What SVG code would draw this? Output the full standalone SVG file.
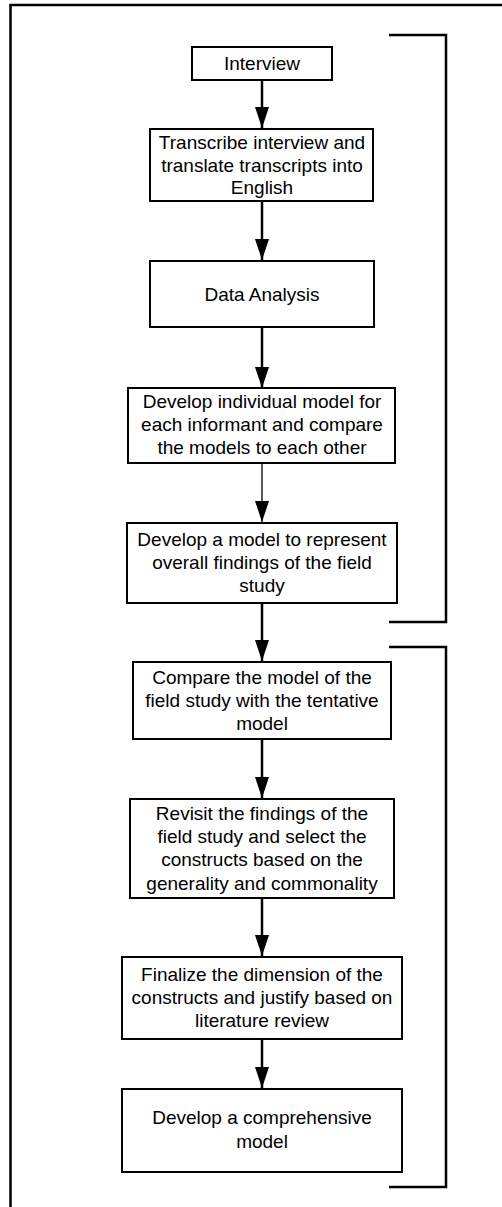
<svg xmlns="http://www.w3.org/2000/svg" width="502" height="1207" viewBox="0 0 502 1207">
  <style>
    .box { fill: #ffffff; stroke: #000000; stroke-width: 2; }
    .label { font-family: "Liberation Sans", Arial, sans-serif; font-size: 19px; fill: #000000; text-anchor: middle; }
    .edge { stroke: #000000; stroke-width: 2.5; fill: none; }
    .edge.thin { stroke-width: 1.3; }
    .frame { stroke: #000000; stroke-width: 2.5; fill: none; }
  </style>
  <defs>
    <marker id="arrow" markerUnits="userSpaceOnUse" markerWidth="14" markerHeight="21" refX="14" refY="7" orient="auto">
      <path d="M0,0 L14,7 L0,14 Z" fill="#000000"/>
    </marker>
    <marker id="arrowHead" markerUnits="userSpaceOnUse" viewBox="0 0 21 14" markerWidth="21" markerHeight="14" refX="21" refY="7" orient="auto">
      <path d="M0,0 L21,7 L0,14 Z" fill="#000000"/>
    </marker>
  </defs>

  <rect width="502" height="1207" fill="#ffffff"/>

  <!-- outer frame (runs past the right and bottom edges) -->
  <path class="frame" d="M10.5,1215 L10.5,5 L520,5"/>

  <!-- phase brackets -->
  <g id="bracket-field-study">
    <path class="frame" d="M389,35 L446,35 L446,622 L389,622"/>
  </g>
  <g id="bracket-model-building">
    <path class="frame" d="M389,647 L446,647 L446,1187 L389,1187"/>
  </g>

  <!-- connectors -->
  <g id="connectors">
    <line class="edge" x1="262" y1="80" x2="262" y2="128" marker-end="url(#arrowHead)"/>
    <line class="edge" x1="262" y1="201" x2="262" y2="260" marker-end="url(#arrowHead)"/>
    <line class="edge" x1="262" y1="327" x2="262" y2="388" marker-end="url(#arrowHead)"/>
    <line class="edge thin" x1="262" y1="463" x2="262" y2="522" marker-end="url(#arrowHead)"/>
    <line class="edge" x1="262" y1="603" x2="262" y2="661" marker-end="url(#arrowHead)"/>
    <line class="edge" x1="262" y1="739" x2="262" y2="798" marker-end="url(#arrowHead)"/>
    <line class="edge" x1="262" y1="898" x2="262" y2="956" marker-end="url(#arrowHead)"/>
    <line class="edge" x1="262" y1="1039" x2="262" y2="1088" marker-end="url(#arrowHead)"/>
  </g>

  <g id="node-interview">
    <rect class="box" x="192" y="47" width="140" height="33"/>
    <text class="label" x="262" y="70">Interview</text>
  </g>

  <g id="node-transcribe">
    <rect class="box" x="150" y="129" width="223" height="72"/>
    <text class="label" x="262" y="149">Transcribe interview and</text>
    <text class="label" x="262" y="172">translate transcripts into</text>
    <text class="label" x="262" y="194">English</text>
  </g>

  <g id="node-data-analysis">
    <rect class="box" x="150" y="261" width="224" height="66"/>
    <text class="label" x="262" y="301">Data Analysis</text>
  </g>

  <g id="node-individual-model">
    <rect class="box" x="128" y="388" width="267" height="75"/>
    <text class="label" x="262" y="408">Develop individual model for</text>
    <text class="label" x="262" y="431">each informant and compare</text>
    <text class="label" x="262" y="454">the models to each other</text>
  </g>

  <g id="node-overall-model">
    <rect class="box" x="127" y="523" width="270" height="80"/>
    <text class="label" x="262" y="546">Develop a model to represent</text>
    <text class="label" x="262" y="569">overall findings of the field</text>
    <text class="label" x="262" y="592">study</text>
  </g>

  <g id="node-compare">
    <rect class="box" x="133" y="662" width="258" height="77"/>
    <text class="label" x="262" y="684">Compare the model of the</text>
    <text class="label" x="262" y="707">field study with the tentative</text>
    <text class="label" x="262" y="730">model</text>
  </g>

  <g id="node-revisit">
    <rect class="box" x="130" y="799" width="264" height="99"/>
    <text class="label" x="262" y="820">Revisit the findings of the</text>
    <text class="label" x="262" y="843">field study and select the</text>
    <text class="label" x="262" y="866">constructs based on the</text>
    <text class="label" x="262" y="890">generality and commonality</text>
  </g>

  <g id="node-finalize">
    <rect class="box" x="122" y="957" width="280" height="82"/>
    <text class="label" x="262" y="981">Finalize the dimension of the</text>
    <text class="label" x="262" y="1004">constructs and justify based on</text>
    <text class="label" x="262" y="1027">literature review</text>
  </g>

  <g id="node-comprehensive">
    <rect class="box" x="122" y="1089" width="280" height="83"/>
    <text class="label" x="262" y="1124">Develop a comprehensive</text>
    <text class="label" x="262" y="1148">model</text>
  </g>
</svg>
